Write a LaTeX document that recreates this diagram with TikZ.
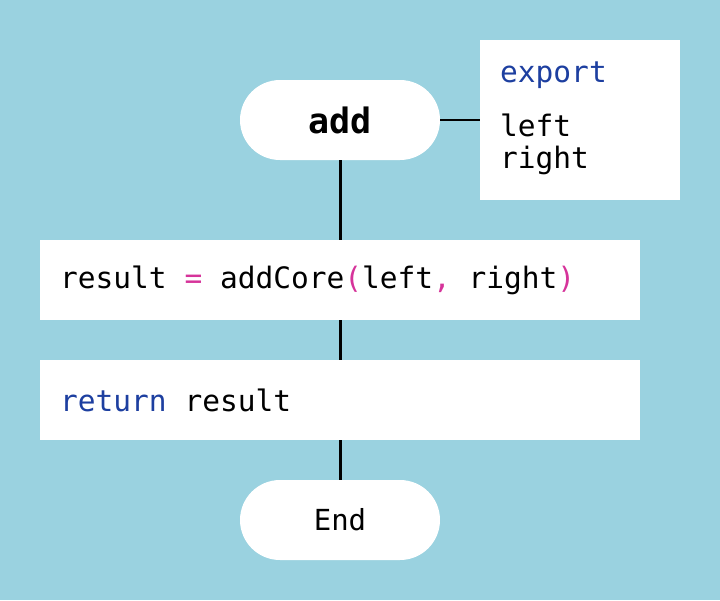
\documentclass[tikz,border=0pt]{standalone}
\usepackage{fontspec}
\setmonofont{DejaVu Sans Mono}
\definecolor{bg}{HTML}{9AD2E0}
\definecolor{kw}{HTML}{1D3FA0}
\definecolor{op}{HTML}{D6339A}
\begin{document}
\begin{tikzpicture}[x=1pt,y=-1pt,
  term/.style={fill=white,rounded corners=40pt,minimum width=200pt,minimum height=80pt,inner sep=0pt,font=\ttfamily\fontsize{29}{32}\selectfont},
  procbox/.style={fill=white,minimum width=600pt,minimum height=80pt,inner sep=0pt},
  code/.style={font=\ttfamily\fontsize{29.5}{32}\selectfont,anchor=west,inner sep=0pt},
  conn/.style={line width=3pt}]
\fill[bg] (0,0) rectangle (720,600);
\useasboundingbox (0,0) rectangle (720,600);
\node[fill=white,minimum width=200pt,minimum height=160pt,inner sep=0pt] (exp) at (580,120) {};
\node[code,text=kw] (e1) at (500,75) {export};
\node[code] (e2) at (500,125) {left};
\node[code] (e3) at (500,160) {right};
\node[term,font=\ttfamily\bfseries\fontsize{35}{38}\selectfont] (add) at (340,120) {add};
\node[procbox] (b1) at (340,280) {};
\node[code] (t1) at (60,280) {result \textcolor{op}{=} addCore\textcolor{op}{(}left\textcolor{op}{,} right\textcolor{op}{)}};
\node[procbox] (b2) at (340,400) {};
\node[code] (t2) at (60,400) {\textcolor{kw}{return} result};
\node[term] (end) at (340,520) {End};
\draw[line width=1.5pt] (add.east) -- (exp.west);
\draw[conn] (add.south) -- (b1.north);
\draw[conn] (b1.south) -- (b2.north);
\draw[conn] (b2.south) -- (end.north);
\end{tikzpicture}
\end{document}
